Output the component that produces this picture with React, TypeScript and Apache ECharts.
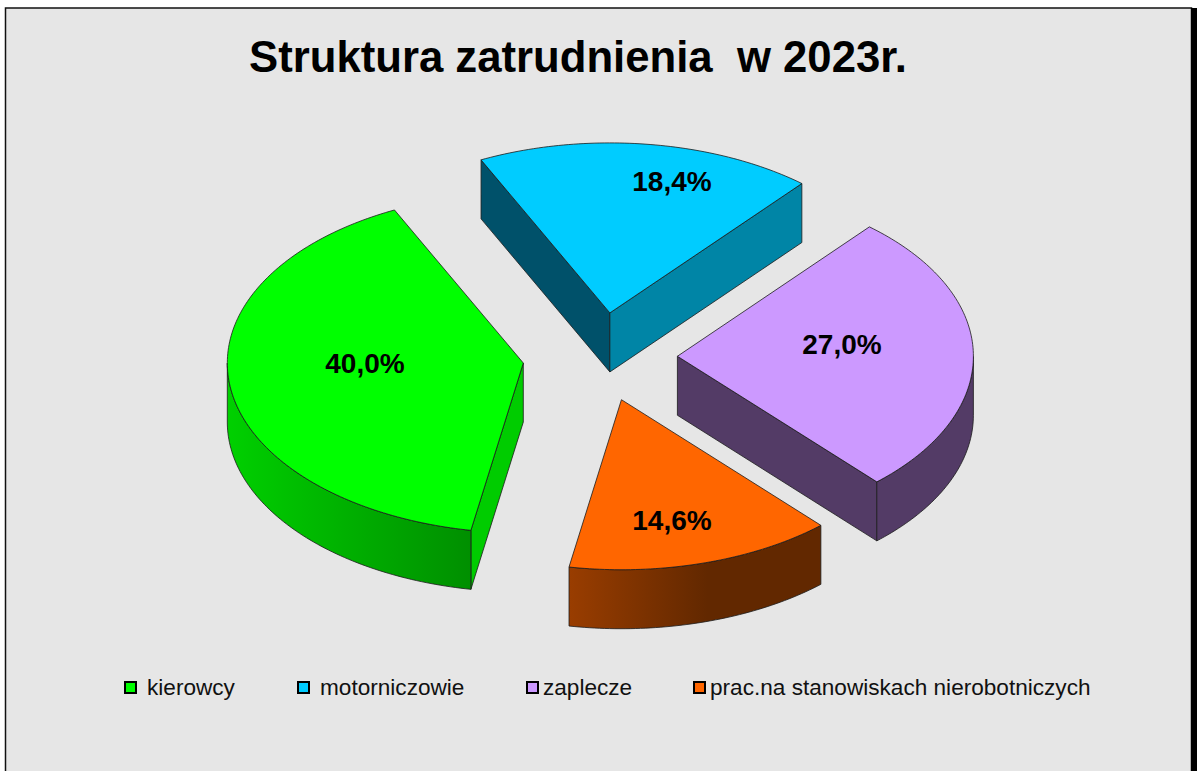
import React, { useEffect, useRef } from "react";
import * as echarts from "echarts";

const titleText = "Struktura zatrudnienia  w 2023r.";
const categories = ["kierowcy", "motorniczowie", "zaplecze", "prac.na stanowiskach nierobotniczych"];
const shares = [40.0, 18.4, 27.0, 14.6];
const topColors = ["#00ff00", "#00ccff", "#cc99ff", "#ff6600"];
const startFaceColors = ["#00cc00", "#00516a", "#533b66", "#993d00"];
const endFaceColors = ["#00cc00", "#0085a6", "#533b66", "#662900"];
const rimStops: [number, string][][] = [
  [[0, "#00d000"], [1, "#008f00"]],
  [[0, "#0085a6"], [1, "#0085a6"]],
  [[0, "#533b66"], [1, "#533b66"]],
  [[0, "#993d00"], [0.55, "#622800"], [1, "#622800"]],
];
const legendLefts = [124, 297, 526, 693];
const legendTextGaps = [6, 6, 0, 0];
const labelAnchors = [[365, 363], [672, 181], [842, 344], [672, 520]];

const cx = 600, cy = 357, rx = 296, ry = 170, depth = 59, explode = 0.2615, startAngle = 190.2;
const FONT = '"Liberation Sans", Arial, sans-serif';
const rad = (d: number) => (d * Math.PI) / 180;

function renderSlice(index: number) {
  return (_params: any, api: any) => {
    const value = api.value(0);
    const total = shares.reduce((a, b) => a + b, 0);
    const before = shares.slice(0, index).reduce((a, b) => a + b, 0);
    const a0 = (startAngle + (before / total) * 360) % 360;
    const a1 = a0 + (value / total) * 360;
    const mid = (a0 + a1) / 2;
    const ax = cx + explode * rx * Math.sin(rad(mid));
    const ay = cy - explode * ry * Math.cos(rad(mid));
    const pt = (a: number, dz = 0): number[] => [ax + rx * Math.sin(rad(a)), ay - ry * Math.cos(rad(a)) + dz];
    const arc = (from: number, to: number, dz = 0) => {
      const out: number[][] = [];
      const n = Math.max(2, Math.ceil(Math.abs(to - from)));
      for (let i = 0; i <= n; i++) out.push(pt(from + ((to - from) * i) / n, dz));
      return out;
    };
    const edge = { stroke: "#1c1c1c", lineWidth: 0.8 };
    const children: any[] = [];
    const face = (points: number[][], fill: any) =>
      children.push({ type: "polygon", shape: { points }, style: { fill, ...edge } });

    if (Math.sin(rad(a0)) < 0) {
      const p = pt(a0);
      face([[ax, ay], p, [p[0], p[1] + depth], [ax, ay + depth]], startFaceColors[index]);
    }
    if (Math.sin(rad(a1)) > 0) {
      const p = pt(a1);
      face([[ax, ay], p, [p[0], p[1] + depth], [ax, ay + depth]], endFaceColors[index]);
    }
    // front rim: the part of the outer edge that faces the viewer (90..270 degrees)
    const f0 = Math.max(a0, 90), f1 = Math.min(a1, 270);
    if (f1 > f0) {
      const fill = new echarts.graphic.LinearGradient(
        0, 0, 1, 0,
        rimStops[index].map(([offset, color]) => ({ offset, color })),
      );
      face([...arc(f0, f1), ...arc(f1, f0, depth)], fill);
    }
    face([[ax, ay], ...arc(a0, a1)], topColors[index]);
    children.push({
      type: "text",
      x: labelAnchors[index][0],
      y: labelAnchors[index][1],
      style: {
        text: value.toFixed(1).replace(".", ",") + "%",
        font: `bold 28px ${FONT}`,
        fill: "#000",
        align: "center",
        verticalAlign: "middle",
      },
    });
    return { type: "group", children };
  };
}

export default function App() {
  const ref = useRef<HTMLDivElement>(null);
  useEffect(() => {
    document.body.style.margin = "0";
    const chart = echarts.init(ref.current!, null, { renderer: "svg" });
    chart.setOption({
      animation: false,
      backgroundColor: "#ffffff",
      title: {
        text: titleText,
        left: 249,
        top: 34,
        padding: 0,
        textStyle: { fontFamily: FONT, fontWeight: "bold", fontSize: 43.7, color: "#000" },
      },
      legend: categories.map((name, i) => ({
        data: [{ name, icon: "rect", itemStyle: { color: topColors[i], borderColor: "#000", borderWidth: 2 } }],
        left: legendLefts[i],
        top: 676,
        padding: 0,
        itemWidth: 11,
        itemHeight: 11,
        selectedMode: false,
        textStyle: {
          fontFamily: FONT,
          fontSize: 22.6,
          color: "#111",
          padding: [0, 0, 0, legendTextGaps[i]],
        },
      })),
      graphic: [
        { type: "rect", z: -1, shape: { x: 5.5, y: 8, width: 1186, height: 770 }, style: { fill: "#e6e6e6", stroke: "#111", lineWidth: 1.5 } },
        { type: "rect", z: -1, shape: { x: 1191, y: 8, width: 6, height: 763 }, style: { fill: "#000" } },
      ],
      series: categories.map((name, i) => ({
        type: "custom",
        name,
        coordinateSystem: "none",
        itemStyle: { color: topColors[i] },
        renderItem: renderSlice(i),
        data: [{ name, value: shares[i] }],
      })),
    });
    return () => chart.dispose();
  }, []);
  return <div ref={ref} style={{ position: "absolute", left: 0, top: 0, width: 1197, height: 771 }} />;
}
